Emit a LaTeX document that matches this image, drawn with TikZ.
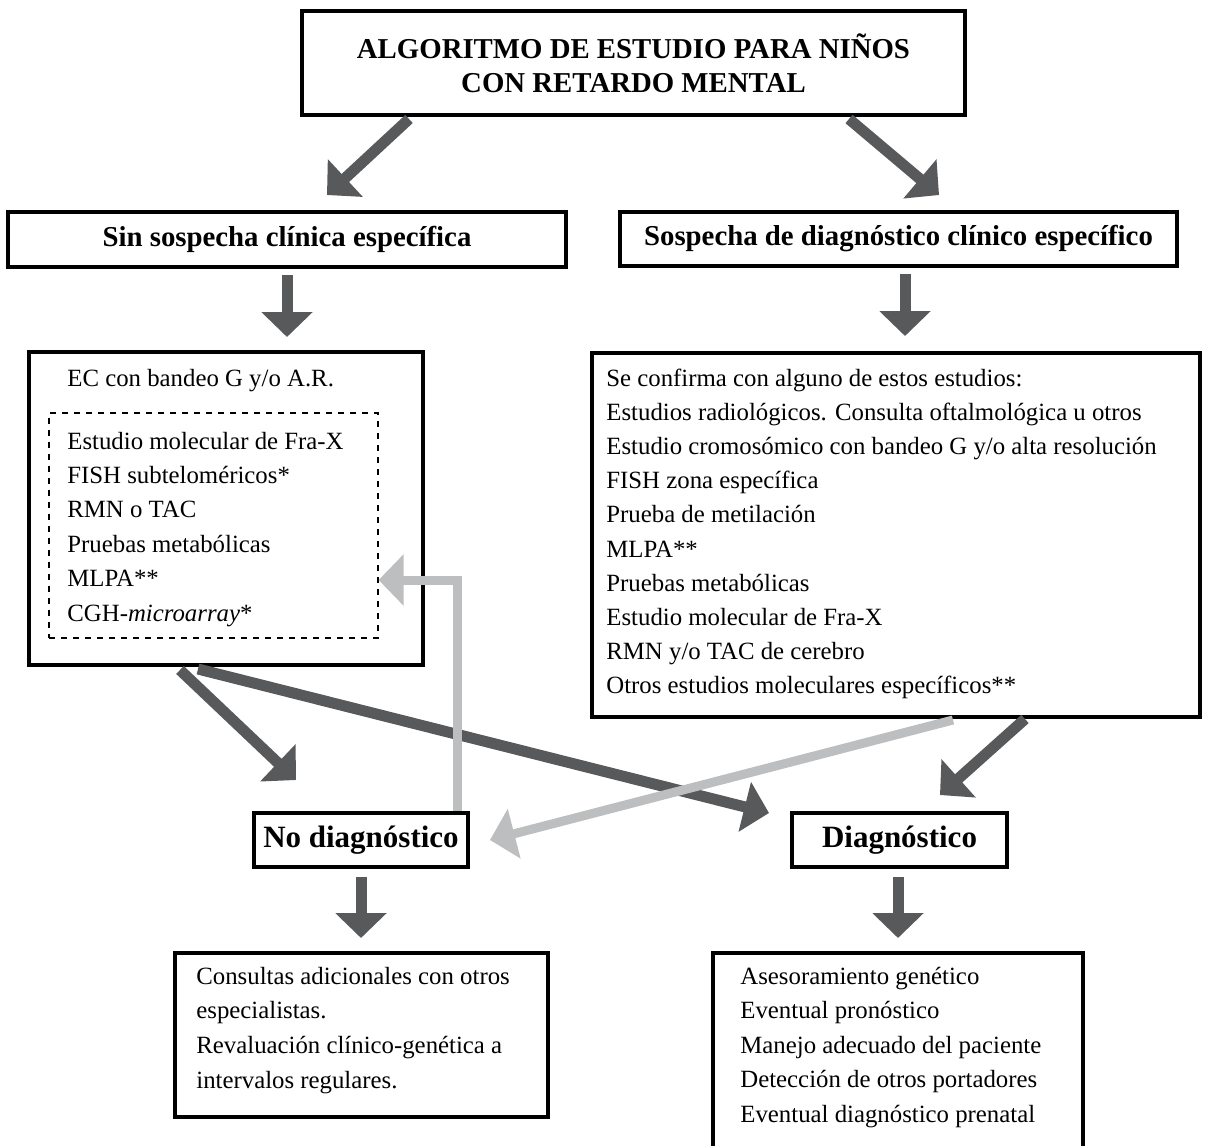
\documentclass[tikz,border=0pt]{standalone}
\usepackage{fontspec}
\setmainfont{Liberation Serif}
\usetikzlibrary{arrows.meta,calc}

\definecolor{oscuro}{HTML}{58595B}
\definecolor{claro}{HTML}{BCBEC0}

\begin{document}
\begin{tikzpicture}[x=0.5pt,y=-0.5pt]
	\tikzstyle{caja}=[draw,line width=2pt,fill=white,inner sep=0pt]
	\tikzstyle{titulo}=[font=\fontsize{14.4}{17}\selectfont\bfseries,align=center]
	\tikzstyle{linea}=[font=\fontsize{12.4}{15}\selectfont,anchor=base west,inner sep=0pt]
	\tikzstyle{flecha}=[oscuro,line width=5.5pt,-{Triangle[width=25pt,length=12.5pt]}]
	\tikzstyle{flechaclara}=[claro,line width=4.5pt,-{Triangle[width=25pt,length=12.5pt]}]

	\useasboundingbox (0,0) rectangle (1205,1146);

	\node[caja,titulo,minimum width=331.5pt,minimum height=52pt](alg) at (633.5,63){ALGORITMO DE ESTUDIO PARA NIÑOS\\CON RETARDO MENTAL};

	\node[caja,titulo,minimum width=279pt,minimum height=27.5pt](sin) at (287,239.5){Sin sospecha clínica específica};
	\node[caja,titulo,minimum width=278.5pt,minimum height=27pt](sosp) at (898.5,239){Sospecha de diagnóstico clínico específico};

	\node[caja,minimum width=197pt,minimum height=156.5pt](izq) at (226,508.5){};
	\node[draw,dashed,line width=0.6pt,minimum width=164.5pt,minimum height=112.5pt,inner sep=0pt](lista) at (213.5,525.5){};
	\node[linea](ec) at (67,386){EC con bandeo G y/o A.R.};
	\foreach \t [count=\i] in {Estudio molecular de Fra-X,FISH subteloméricos*,RMN o TAC,Pruebas metabólicas,MLPA**,CGH-\textit{microarray}*}
		\node[linea](l\i) at (67,{449+(\i-1)*34.4}){\t};

	\node[caja,minimum width=304pt,minimum height=182pt](der) at (896,535){};
	\foreach \t [count=\i] in {Se confirma con alguno de estos estudios:,Estudios radiológicos. Consulta oftalmológica u otros,Estudio cromosómico con bandeo G y/o alta resolución,FISH zona específica,Prueba de metilación,MLPA**,Pruebas metabólicas,Estudio molecular de Fra-X,RMN y/o TAC de cerebro,Otros estudios moleculares específicos**}
		\node[linea](r\i) at (606,{386+(\i-1)*34.2}){\t};

	\node[caja,titulo,font=\fontsize{15.5}{17}\selectfont\bfseries,minimum width=107pt,minimum height=27pt](nodiag) at (361,840){No diagnóstico};
	\node[caja,titulo,font=\fontsize{15.5}{17}\selectfont\bfseries,minimum width=107.5pt,minimum height=27pt](diag) at (899.5,840){Diagnóstico};

	\node[caja,minimum width=186.5pt,minimum height=82pt](cons) at (361.5,1035){};
	\foreach \t [count=\i] in {Consultas adicionales con otros,especialistas.,Revaluación clínico-genética a,intervalos regulares.}
		\node[linea](c\i) at (196,{984+(\i-1)*34.8}){\t};

	\node[caja,minimum width=185pt,minimum height=100pt](ases) at (898,1053){};
	\foreach \t [count=\i] in {Asesoramiento genético,Eventual pronóstico,Manejo adecuado del paciente,Detección de otros portadores,Eventual diagnóstico prenatal}
		\node[linea](a\i) at (740,{984+(\i-1)*34.5}){\t};

	% flechas oscuras
	\draw[flecha] ($(alg.south west)+(109,2)$) -- ($(sin.north)+(40,-15)$);
	\draw[flecha] ($(alg.south west)+(549,2)$) -- ($(sosp.north)+(40.5,-15)$);
	\draw[flecha] ($(sin.south)+(0,6)$) -- ($(sin.south |- izq.north)+(0,-13)$);
	\draw[flecha] ($(sosp.south)+(6.5,6)$) -- ($(sosp.south |- der.north)+(6.5,-15)$);
	\draw[flecha] ($(izq.south west)+(153,3)$) -- ($(nodiag.north west)+(44,-31)$);
	\draw[flecha] ($(izq.south west)+(171,2)$) -- ($(diag.north west)+(-21,2)$);
	\draw[flecha] ($(der.south west)+(435,0)$) -- ($(diag.north)+(40.5,-16)$);
	\draw[flecha] ($(nodiag.south)+(0,8)$) -- ($(nodiag.south |- cons.north)+(0,-13)$);
	\draw[flecha] ($(diag.south)+(-1.5,8)$) -- ($(diag.south |- ases.north)+(-1.5,-13)$);

	% flechas claras
	\draw[flechaclara] ($(der.south west)+(363,1)$) -- ($(nodiag.east)+(20,0)$);
	\draw[flechaclara] ($(nodiag.north east)+(-13,0)$) |- ($(lista.east)+(0,54.5)$);

\end{tikzpicture}
\end{document}
